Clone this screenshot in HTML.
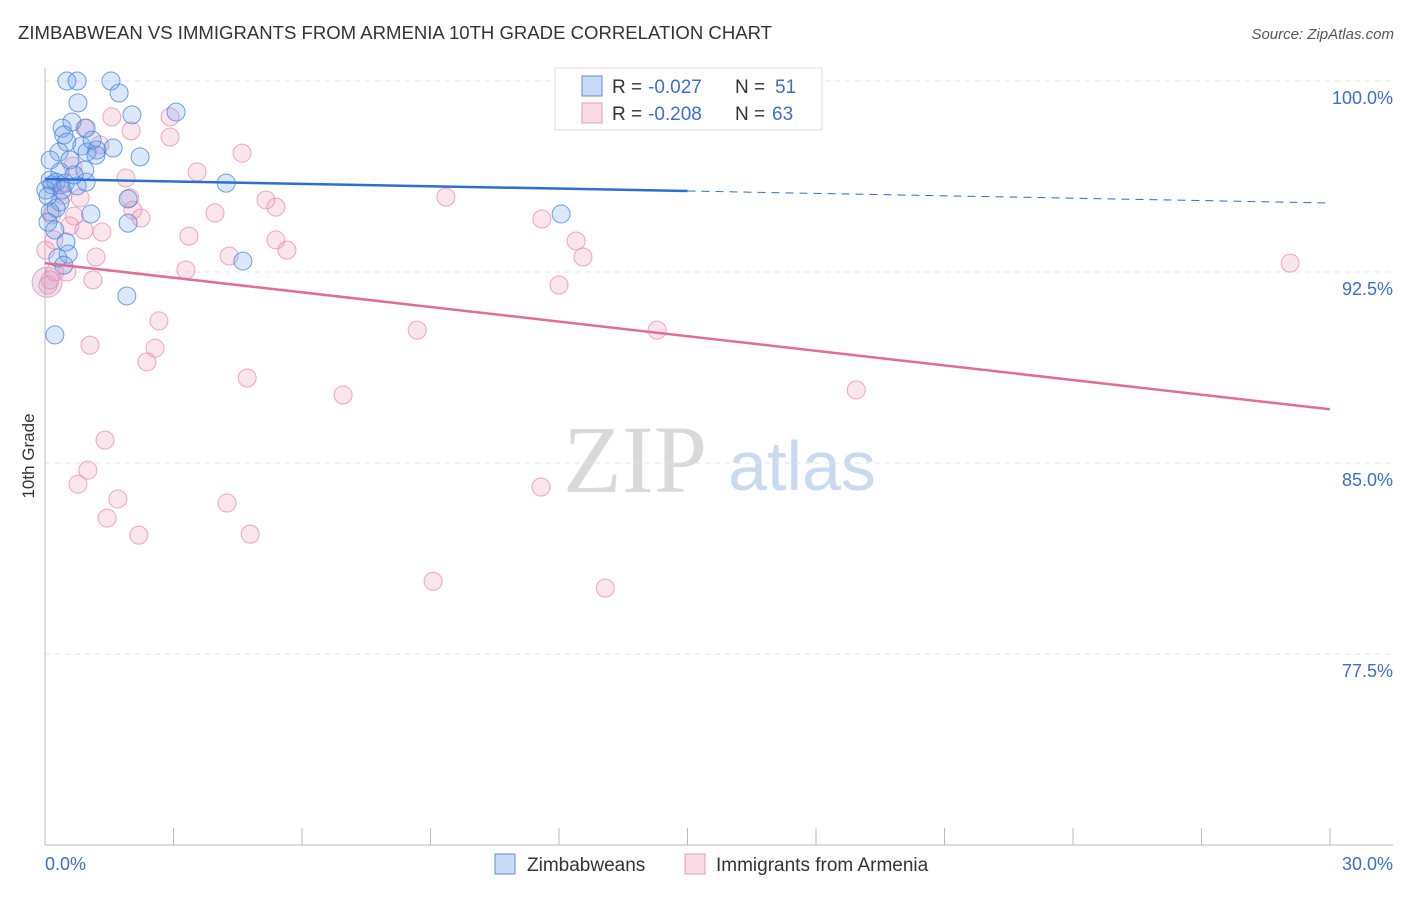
<!DOCTYPE html>
<html><head><meta charset="utf-8"><style>
body{margin:0;background:#fff;font-family:"Liberation Sans",sans-serif;}
</style></head><body>
<svg id="c" width="1406" height="892" xmlns="http://www.w3.org/2000/svg" style="font-family:'Liberation Sans',sans-serif">
<text x="18" y="39" font-size="18" fill="#333" textLength="754" lengthAdjust="spacingAndGlyphs">ZIMBABWEAN VS IMMIGRANTS FROM ARMENIA 10TH GRADE CORRELATION CHART</text>
<text x="1394" y="39" font-size="15" fill="#555" font-style="italic" text-anchor="end">Source: ZipAtlas.com</text>
<text x="34" y="456" font-size="17" fill="#333" text-anchor="middle" transform="rotate(-90 34 456)">10th Grade</text>
<text x="635" y="492" font-size="96" fill="#d9d9d9" font-family="Liberation Serif" text-anchor="middle">ZIP</text>
<text x="802" y="490" font-size="70" fill="#c9daf0" text-anchor="middle">atlas</text>
<g id="grid"></g><g id="marks"></g>
<g>
<rect x="555" y="68" width="267" height="62" fill="#fff" stroke="#ddd"/>
<rect x="582" y="76" width="20" height="20" fill="rgba(100,150,230,0.35)" stroke="#5b8fd9"/>
<rect x="582" y="103" width="20" height="20" fill="rgba(240,150,180,0.35)" stroke="#e89ab5"/>
<text x="612" y="93" font-size="19" fill="#333">R =</text>
<text x="648" y="93" font-size="19" fill="#3a6fd0">-0.027</text>
<text x="735" y="93" font-size="19" fill="#333">N =</text>
<text x="775" y="93" font-size="19" fill="#3a6fd0">51</text>
<text x="612" y="120" font-size="19" fill="#333">R =</text>
<text x="648" y="120" font-size="19" fill="#3a6fd0">-0.208</text>
<text x="735" y="120" font-size="19" fill="#333">N =</text>
<text x="772" y="120" font-size="19" fill="#3a6fd0">63</text>
</g>
<g>
<rect x="495" y="854" width="20" height="20" fill="rgba(100,150,230,0.35)" stroke="#5b8fd9"/>
<text x="527" y="871" font-size="19" fill="#333">Zimbabweans</text>
<rect x="685" y="854" width="20" height="20" fill="rgba(240,150,180,0.35)" stroke="#e89ab5"/>
<text x="716" y="871" font-size="19" fill="#333">Immigrants from Armenia</text>
</g>
</svg>
<script>
const blueX=[0.51,0.75,1.54,1.73,0.77,2.03,3.06,0.40,0.63,0.44,0.96,0.51,0.86,1.21,1.59,0.33,0.98,2.22,0.12,0.35,0.93,0.16,0.26,0.47,0.75,0.96,4.23,1.94,0.35,0.12,0.26,1.07,1.94,0.07,12.05,0.49,0.54,0.30,0.44,4.62,1.91,0.23,0.12,0.02,1.10,0.58,0.07,0.40,0.68,1.19,0.23];
const blueY=[100.0,100.0,100.0,99.53,99.14,98.67,98.78,98.15,98.39,97.88,98.15,97.60,97.45,97.29,97.37,97.21,97.21,97.02,96.90,96.43,96.50,95.92,96.03,95.99,95.88,96.03,95.99,95.37,95.25,94.86,95.01,94.78,94.42,94.46,94.78,93.68,93.21,93.05,92.77,92.93,91.56,90.03,96.11,95.72,97.68,96.90,95.48,95.72,96.31,97.09,94.15];
const pinkX=[2.92,1.56,2.92,2.01,0.93,4.60,1.28,3.55,1.89,0.65,0.35,0.82,1.98,2.05,2.24,3.97,5.16,5.39,0.68,0.58,0.91,1.33,3.36,5.39,5.65,4.30,1.19,0.21,0.23,0.51,1.12,3.29,9.36,11.60,12.40,12.56,12.00,29.07,2.66,2.57,1.05,2.38,8.69,14.29,4.72,6.96,18.94,1.40,1.00,0.77,1.70,1.45,2.19,4.25,4.79,11.58,9.06,13.08,0.07,0.12,0.16,0.42,0.02];
const pinkY=[98.59,98.59,97.80,98.04,98.15,97.17,97.49,96.43,96.19,96.66,95.92,95.41,95.41,94.93,94.62,94.82,95.33,95.05,94.70,94.31,94.15,94.07,93.91,93.76,93.36,93.13,93.09,93.76,92.50,92.50,92.19,92.58,95.44,94.58,93.72,93.09,91.99,92.85,90.58,89.51,89.63,88.97,90.22,90.22,88.34,87.67,87.87,85.90,84.72,84.17,83.59,82.84,82.17,83.43,82.21,84.06,80.36,80.09,91.99,92.19,94.74,95.52,93.36];
const blueTrend=[96.15,-0.0313];
const pinkTrend=[92.85,-0.1913];
const yTicks=[100,92.5,85,77.5];
const yTickLabels=["100.0%","92.5%","85.0%","77.5%"];
const NS="http://www.w3.org/2000/svg";
const sx=v=>45+v/30*1285;
const sy=v=>81+(100-v)*25.47;
function mk(t,a,p){const e=document.createElementNS(NS,t);for(const k in a)e.setAttribute(k,a[k]);p.appendChild(e);return e;}
const g=document.getElementById('grid'),m=document.getElementById('marks');
yTicks.forEach((t,i)=>{
 const l=mk('line',{x1:45,x2:1393,y1:sy(t),y2:sy(t),stroke:'#e3e3e3','stroke-dasharray':'5,5'},g);
 
 
 const tx=mk('text',{x:1393,y:sy(t)+23,'font-size':18,fill:'#3a6fd0','text-anchor':'end'},g);
 tx.textContent=yTickLabels[i];
 
 
});
const ax=mk('line',{x1:45,x2:1393,y1:845,y2:845,stroke:'#bbb'},g);


const ay=mk('line',{x1:45,x2:45,y1:68,y2:845,stroke:'#bbb'},g);


for(let i=0;i<=10;i++){const t=mk('line',{x1:sx(i*3),x2:sx(i*3),y1:828,y2:845,stroke:'#bbb'},g);
 
 }
const x0=mk('text',{x:45,y:870,'font-size':18,fill:'#3a6fd0'},g);x0.textContent='0.0%';


const x1=mk('text',{x:1393,y:870,'font-size':18,fill:'#3a6fd0','text-anchor':'end'},g);x1.textContent='30.0%';


pinkX.forEach((x,i)=>{const c=mk('circle',{cx:sx(x),cy:sy(pinkY[i]),r:9,fill:'rgba(240,150,180,0.25)',stroke:'rgba(230,140,175,0.75)','stroke-width':1},m);
 
 });
blueX.forEach((x,i)=>{const c=mk('circle',{cx:sx(x),cy:sy(blueY[i]),r:9,fill:'rgba(110,160,235,0.25)',stroke:'rgba(70,130,215,0.75)','stroke-width':1},m);
 
 });
const big=mk('circle',{cx:sx(0.05),cy:sy(92.1),r:15,fill:'rgba(200,150,200,0.3)',stroke:'#e0a8c4'},m);


const bt=v=>blueTrend[0]+blueTrend[1]*v, pt=v=>pinkTrend[0]+pinkTrend[1]*v;
const b1=mk('line',{x1:sx(0),y1:sy(bt(0)),x2:sx(15),y2:sy(bt(15)),stroke:'#2a6fd6','stroke-width':2.5},m);


const b2=mk('line',{x1:sx(15),y1:sy(bt(15)),x2:sx(30),y2:sy(bt(30)),stroke:'#2a6fd6','stroke-width':1,'stroke-dasharray':'8,6'},m);


const p1=mk('line',{x1:sx(0),y1:sy(pt(0)),x2:sx(30),y2:sy(pt(30)),stroke:'#e46a98','stroke-width':2.5},m);


</script>
</body></html>
